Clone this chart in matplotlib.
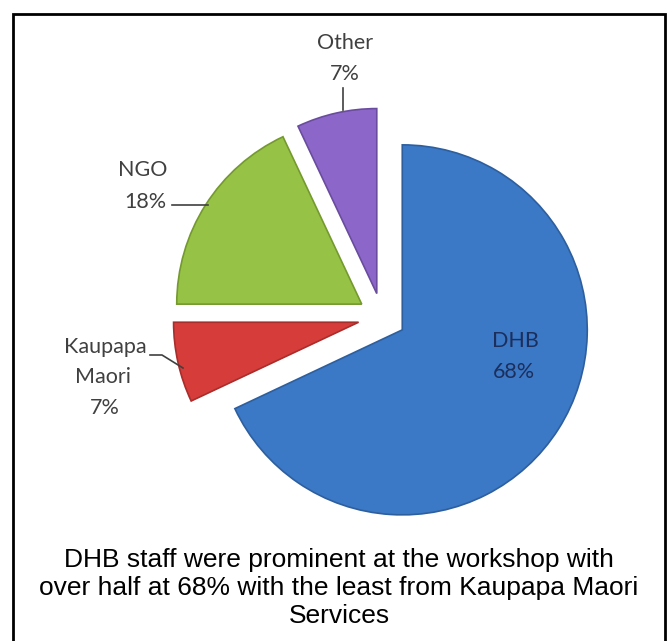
import matplotlib

matplotlib.use("Agg")
import matplotlib.pyplot as plt
from matplotlib.patches import Rectangle

# data
categories = ["DHB", "Kaupapa\nMaori", "NGO", "Other"]
shares = [68, 7, 18, 7]
colors = ["#3b78c6", "#d63c3a", "#96c346", "#8c67c9"]
edges = ["#2d5f9e", "#a82d2b", "#74992f", "#6a4c9e"]
caption = ["DHB staff were prominent at the workshop with",
           "over half at 68% with the least from Kaupapa Maori",
           "Services"]

W, H = 671, 641


def py(y):
    # pixel row (from top) -> data y
    return H - y


fig = plt.figure(figsize=(W / 100, H / 100), dpi=100)
ax = fig.add_axes([0, 0, 1, 1])

ax.pie(shares, colors=colors, startangle=90, counterclock=False,
       radius=185, center=(382, py(317)), explode=[24] * 4,
       wedgeprops=dict(linewidth=1.2))
for w, ec in zip(ax.patches, edges):
    w.set_edgecolor(ec)

ax.set_xlim(0, W)
ax.set_ylim(0, H)
ax.set_aspect("equal")
ax.axis("off")

lab = dict(family="Lato", fontsize=15.5, color="#404040",
           ha="center", va="center")
# outside labels
ax.text(345, py(43), "Other", **lab)
ax.text(345, py(74), f"{shares[3]}%", **lab)
ax.plot([343, 343], [py(88), py(110)], color="#404040", lw=1.2)

ax.text(143, py(170), "NGO", **lab)
ax.text(145, py(202), f"{shares[2]}%", **lab)
ax.plot([172, 208], [py(205), py(205)], color="#404040", lw=1.2)

ax.text(105, py(347), "Kaupapa", **lab)
ax.text(103, py(377), "Maori", **lab)
ax.text(105, py(408), f"{shares[1]}%", **lab)
ax.plot([150, 162, 183], [py(355), py(355), py(368)], color="#404040", lw=1.2)

# inside label
ax.text(515, py(341), "DHB", family="Lato", fontsize=15.5, color="#1c2f5c",
        ha="center", va="center")
ax.text(514, py(372), f"{shares[0]}%", family="Lato", fontsize=15.5,
        color="#1c2f5c", ha="center", va="center")

# caption
for i, line in enumerate(caption):
    ax.text(339, py(567 + 28 * i), line, family="Liberation Sans",
            fontsize=19, color="black", ha="center", va="baseline")

# frame
ax.add_patch(Rectangle((13, -10), 652, py(14) + 10, fill=False,
                       edgecolor="black", lw=2, clip_on=False))

fig.savefig("out.png", dpi=100)
